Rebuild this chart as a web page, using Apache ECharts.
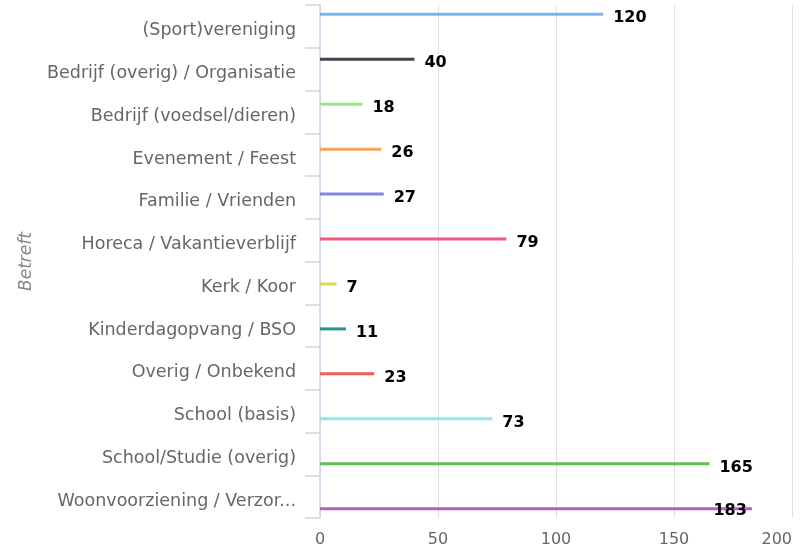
<!DOCTYPE html>
<html>
<head>
<meta charset="utf-8">
<script src="https://cdn.jsdelivr.net/npm/echarts@6/dist/echarts.min.js"></script>
<style>html,body{margin:0;padding:0;background:#fff}#c{width:800px;height:557px}</style>
</head>
<body>
<div id="c"></div>
<script>
const categories = [
  "(Sport)vereniging",
  "Bedrijf (overig) / Organisatie",
  "Bedrijf (voedsel/dieren)",
  "Evenement / Feest",
  "Familie / Vrienden",
  "Horeca / Vakantieverblijf",
  "Kerk / Koor",
  "Kinderdagopvang / BSO",
  "Overig / Onbekend",
  "School (basis)",
  "School/Studie (overig)",
  "Woonvoorziening / Verzorgingshuis"
];
const values = [120, 40, 18, 26, 27, 79, 7, 11, 23, 73, 165, 183];
const palette = ["#7cb5ec", "#434348", "#90ed7d", "#f7a35c", "#8085e9", "#f15c80",
                 "#e4d354", "#2b908f", "#f45b5b", "#91e8e1", "#66bb55", "#b35ec0"];
const xTicks = { min: 0, max: 200, interval: 50 };

const chart = echarts.init(document.getElementById('c'));
const series = categories.map((name, i) => {
  const data = categories.map((_, j) => {
    if (j !== i) return '-';
    const item = { value: values[i] };
    if (i === categories.length - 1) {
      item.label = { position: 'insideRight', distance: 5, offset: [0, 2] };
    }
    return item;
  });
  return {
    name: name,
    type: 'bar',
    data: data,
    barWidth: 3,
    barGap: '-27%',
    itemStyle: { color: palette[i] },
    label: {
      show: true,
      position: 'right',
      distance: 10,
      offset: [0, 4],
      color: '#000',
      fontWeight: 'bold',
      fontSize: 16,
      fontFamily: 'DejaVu Sans'
    }
  };
});

chart.setOption({
  animation: false,
  grid: { left: 320, right: 8, top: 5, bottom: 39, containLabel: false, outerBoundsMode: 'none' },
  xAxis: {
    type: 'value',
    min: xTicks.min, max: xTicks.max, interval: xTicks.interval,
    axisLine: { show: false },
    axisTick: { show: false },
    splitLine: { lineStyle: { color: '#e0e0e0', width: 1 } },
    axisLabel: { color: '#666', fontSize: 16, margin: 14, fontFamily: 'DejaVu Sans', alignMaxLabel: 'right' }
  },
  yAxis: {
    type: 'category',
    inverse: true,
    data: categories,
    name: 'Betreft',
    nameLocation: 'middle',
    nameGap: 270,
    nameTextStyle: { color: '#888', fontSize: 17, fontStyle: 'italic', fontFamily: 'DejaVu Sans' },
    axisLine: { lineStyle: { color: '#ccd6eb', width: 1.5 } },
    axisTick: { show: true, length: 15, lineStyle: { color: '#ccd6eb', width: 1.5 } },
    axisLabel: {
      color: '#666', fontSize: 17.5, margin: 24, fontFamily: 'DejaVu Sans',
      width: 250, overflow: 'truncate', ellipsis: '...',
      verticalAlign: 'top', lineHeight: 9
    }
  },
  series: series
});
</script>
</body>
</html>
